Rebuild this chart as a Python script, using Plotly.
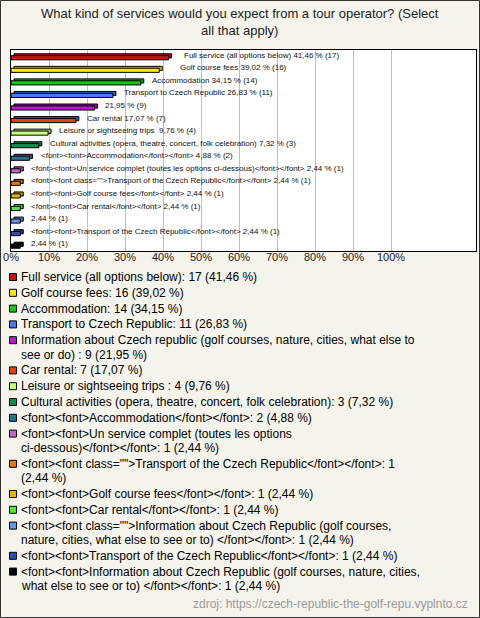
import plotly.graph_objects as go

# ---------------- data ----------------
categories = [
    "Full service (all options below)",
    "Golf course fees",
    "Accommodation",
    "Transport to Czech Republic",
    "Information about Czech republic (golf courses, nature, cities, what else to see or do) ",
    "Car rental",
    "Leisure or sightseeing trips ",
    "Cultural activities (opera, theatre, concert, folk celebration)",
    "<font><font>Accommodation</font></font>",
    "<font><font>Un service complet (toutes les options ci-dessous)</font></font>",
    '<font><font class="">Transport of the Czech Republic</font></font>',
    "<font><font>Golf course fees</font></font>",
    "<font><font>Car rental</font></font>",
    '<font><font class="">Information about Czech Republic (golf courses, nature, cities, what else to see or to) </font></font>',
    "<font><font>Transport of the Czech Republic</font></font>",
    "<font><font>Information about Czech Republic (golf courses, nature, cities, what else to see or to) </font></font>",
]
counts = [17, 16, 14, 11, 9, 7, 4, 3, 2, 1, 1, 1, 1, 1, 1, 1]
percents = [41.46, 39.02, 34.15, 26.83, 21.95, 17.07, 9.76, 7.32, 4.88,
            2.44, 2.44, 2.44, 2.44, 2.44, 2.44, 2.44]
tick_values = [0, 10, 20, 30, 40, 50, 60, 70, 80, 90, 100]
tick_labels = ["0%", "10%", "20%", "30%", "40%", "50%", "60%", "70%", "80%", "90%", "100%"]
title_text = "What kind of services would you expect from a tour operator? (Select<br>all that apply)"
source_text = "zdroj: https://czech-republic-the-golf-repu.vyplnto.cz"

# ---------------- styles ----------------
colors = ["#c8140a", "#ffe800", "#14c814", "#5078f0", "#b41ec8", "#e6410f",
          "#c8ff7d", "#0f8c50", "#1e7890", "#c864c8", "#e6780a", "#e6b40a",
          "#50e632", "#6e96e6", "#2850b4", "#000000"]
legend_breaks = {4: "see or do)", 9: "ci-dessous)", 10: "(2,44", 13: "nature,", 15: "what else"}
label_shift = [13, 19, 9, 9, 9, 9, 9, 9, 9, 9, 9, 9, 9, 9, 9, 9]
FONT = "Liberation Sans, Arial, sans-serif"
W, H = 480, 618
BG = "#f4f4ec"


def esc(s):
    return s.replace("&", "&amp;").replace("<", "&lt;").replace(">", "&gt;")


def fmt(p):
    return f"{p:.2f}".replace(".", ",")


def darker(hexc, f=0.8):
    r, g, b = int(hexc[1:3], 16), int(hexc[3:5], 16), int(hexc[5:7], 16)
    return f"rgb({int(r*f)},{int(g*f)},{int(b*f)})"


n = len(categories)
idx = list(range(n))

# plot area in pixels
px_left, px_right, px_top, px_bottom = 11, 476, 50, 251
px_per_pct = 3.8
x_max = (px_right - px_left) / px_per_pct
depth = 3 / px_per_pct

fig = go.Figure()
# back (3D depth) face
fig.add_trace(go.Bar(
    x=percents, y=idx, base=depth, orientation="h", width=0.33, offset=-0.2,
    marker=dict(color=[darker(c) for c in colors], line=dict(color="black", width=1)),
    hoverinfo="skip", showlegend=False))
# front face
fig.add_trace(go.Bar(
    x=percents, y=idx, orientation="h", width=0.33, offset=-0.05,
    marker=dict(color=colors, line=dict(color="black", width=1)),
    hoverinfo="skip", showlegend=False))

annotations = []
# bar labels
for i, (name, c, p) in enumerate(zip(categories, counts, percents)):
    shown = name + " " if len(name) <= 80 else ""
    txt = f"{shown}{fmt(p)} % ({c})"
    annotations.append(dict(
        x=p, y=i, xref="x", yref="y", text=esc(txt), showarrow=False,
        xanchor="left", yanchor="middle", xshift=label_shift[i], yshift=1,
        font=dict(family=FONT, size=8, color="#111")))

# title
annotations.append(dict(
    x=0.5, y=1 - 22.5 / H, xref="paper", yref="paper", text=title_text,
    showarrow=False, xanchor="center", yanchor="middle",
    font=dict(family=FONT, size=13, color="#222")))

# custom legend
shapes = []
y = 277.0
for i, (name, c, p) in enumerate(zip(categories, counts, percents)):
    full = f"{name}: {c} ({fmt(p)} %)"
    if i in legend_breaks:
        tok = legend_breaks[i]
        full = full.replace(" " + tok, "\n" + tok, 1)
    lines = full.split("\n")
    shapes.append(dict(
        type="rect", xref="paper", yref="paper",
        x0=9.5 / W, x1=16.5 / W, y0=1 - (y + 3.5) / H, y1=1 - (y - 3.5) / H,
        fillcolor=colors[i], line=dict(color="black", width=1)))
    for k, line in enumerate(lines):
        annotations.append(dict(
            x=19 / W, y=1 - (y + k * 14.4) / H, xref="paper", yref="paper",
            text=esc(line), showarrow=False, xanchor="left", yanchor="middle",
            font=dict(family=FONT, size=12, color="#000")))
    y += 15.8 + 14.4 * (len(lines) - 1)

# source
annotations.append(dict(
    x=470 / W, y=1 - 604 / H, xref="paper", yref="paper", text=source_text,
    showarrow=False, xanchor="right", yanchor="middle",
    font=dict(family=FONT, size=12, color="#999")))

# outer border
shapes.append(dict(type="rect", xref="paper", yref="paper",
                   x0=0.5 / W, x1=1 - 0.5 / W, y0=0.5 / H, y1=1 - 0.5 / H,
                   line=dict(color="#333", width=1)))

fig.update_layout(
    width=W, height=H, template="none",
    margin=dict(l=0, r=0, t=0, b=0, pad=0),
    paper_bgcolor=BG, plot_bgcolor="white",
    barmode="overlay", showlegend=False,
    annotations=annotations, shapes=shapes,
    xaxis=dict(domain=[px_left / W, px_right / W], range=[0, x_max],
               tickvals=tick_values, ticktext=tick_labels,
               showgrid=True, gridcolor="#c0c0c0", gridwidth=1,
               showline=True, mirror=True, linecolor="black", linewidth=1,
               zeroline=False, ticks="", automargin=False, ticklabelstandoff=-4,
               tickfont=dict(family=FONT, size=11, color="#222")),
    yaxis=dict(domain=[1 - px_bottom / H, 1 - px_top / H], range=[n - 0.5, -0.5],
               showticklabels=False, showgrid=False, zeroline=False,
               showline=True, mirror=True, linecolor="black", linewidth=1,
               ticks="", automargin=False),
)

fig.write_html(
    "out.html",
    config={"displayModeBar": False, "staticPlot": True},
    post_script="document.body.style.margin='0';document.body.style.padding='0';"
                "document.body.style.overflow='hidden';",
)
